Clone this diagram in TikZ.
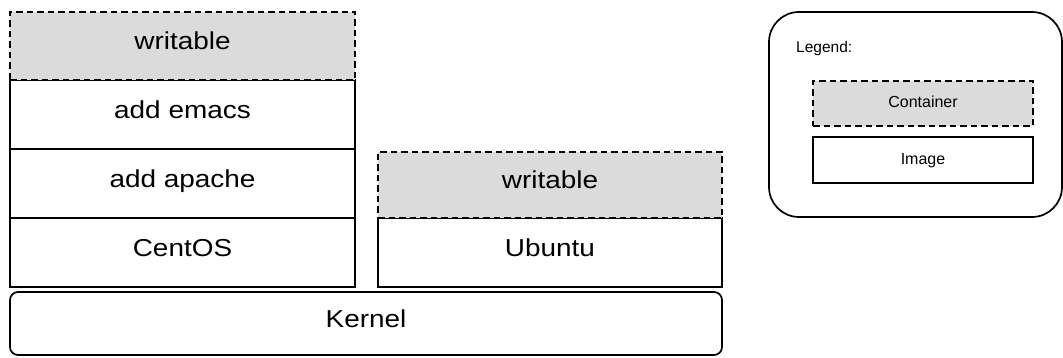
\documentclass[tikz,border=0pt]{standalone}
\usepackage{fontspec}
\setmainfont{Liberation Sans}
\newfontfamily\widefont{Liberation Sans}[FakeStretch=1.14]
\definecolor{contgray}{HTML}{DBDBDB}
\begin{document}
\begin{tikzpicture}[x=1pt,y=-1pt,
  layer/.style={draw=black, line width=1.7pt, rectangle, inner sep=0pt, text height=17pt, text depth=9pt, font=\widefont\fontsize{24.5}{26}\selectfont},
  imagebox/.style={layer, fill=white},
  contbox/.style={layer, fill=contgray, dash pattern=on 6.5pt off 4pt},
  legbox/.style={draw=black, line width=1.7pt, rectangle, inner sep=0pt, text height=12pt, text depth=3pt, font=\fontsize{16}{18}\selectfont},
]
\useasboundingbox (0,0) rectangle (1063,358);
% left stack
\node[imagebox, minimum width=345pt, minimum height=69pt] (emacs) at (182.5,114.5) {add emacs};
\node[imagebox, minimum width=345pt, minimum height=69pt] (apache) at (182.5,183.5) {add apache};
\node[imagebox, minimum width=345pt, minimum height=69pt] (centos) at (182.5,252.5) {CentOS};
\node[contbox, minimum width=345pt, minimum height=68pt] (wleft) at (182.5,46) {writable};
% right stack
\node[imagebox, minimum width=344pt, minimum height=69pt] (ubuntu) at (550,252.5) {Ubuntu};
\node[contbox, minimum width=344pt, minimum height=66pt] (wright) at (550,185) {writable};
% kernel
\node[imagebox, rounded corners=8pt, minimum width=712pt, minimum height=63pt] (kernel) at (366,323.5) {Kernel};
% legend
\node[draw=black, line width=1.7pt, rectangle, rounded corners=30pt, minimum width=293pt, minimum height=205pt] (legend) at (915.5,114.5) {};
\node[anchor=base west, inner sep=0pt, font=\fontsize{15.5}{18}\selectfont] (legtitle) at (796,52.7) {Legend:};
\node[legbox, fill=contgray, dash pattern=on 6.5pt off 4pt, minimum width=220pt, minimum height=45pt] (legcont) at (923,103.5) {Container};
\node[legbox, fill=white, minimum width=220pt, minimum height=46pt] (legimg) at (923,160) {Image};
\end{tikzpicture}
\end{document}
